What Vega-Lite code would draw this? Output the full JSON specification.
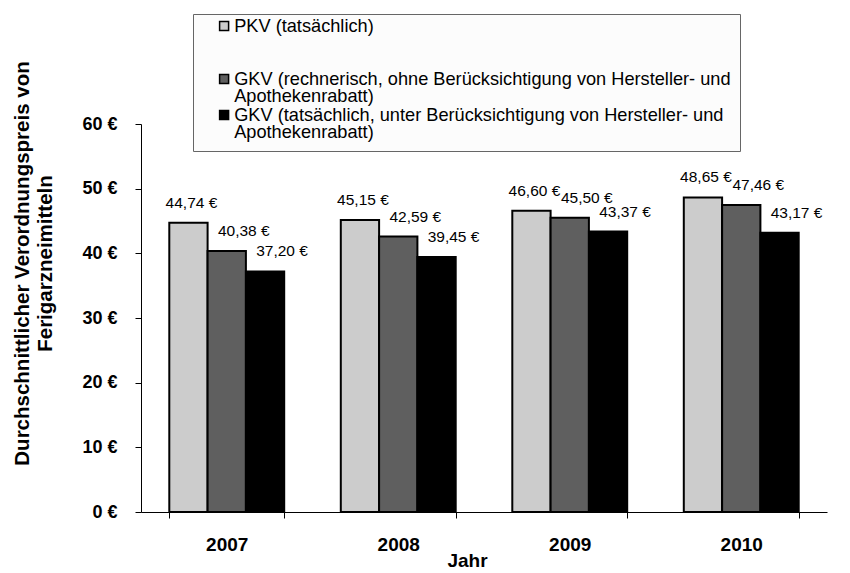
{
  "$schema": "https://vega.github.io/schema/vega-lite/v6.json",
  "width": 686,
  "height": 388,
  "autosize": {"type": "none"},
  "padding": {"left": 141, "top": 124, "right": 23, "bottom": 61},
  "background": "white",
  "config": {
    "locale": {"number": {"decimal": ",", "thousands": ".", "grouping": [3], "currency": ["", " €"]}},
    "view": {"stroke": null},
    "font": "Liberation Sans"
  },
  "data": {
    "values": [
      {"Jahr": "2007", "Reihe": "PKV (tatsächlich)", "Preis": 44.74},
      {"Jahr": "2007", "Reihe": "GKV (rechnerisch, ohne Berücksichtigung von Hersteller- und Apothekenrabatt)", "Preis": 40.38},
      {"Jahr": "2007", "Reihe": "GKV (tatsächlich, unter Berücksichtigung von Hersteller- und Apothekenrabatt)", "Preis": 37.20},
      {"Jahr": "2008", "Reihe": "PKV (tatsächlich)", "Preis": 45.15},
      {"Jahr": "2008", "Reihe": "GKV (rechnerisch, ohne Berücksichtigung von Hersteller- und Apothekenrabatt)", "Preis": 42.59},
      {"Jahr": "2008", "Reihe": "GKV (tatsächlich, unter Berücksichtigung von Hersteller- und Apothekenrabatt)", "Preis": 39.45},
      {"Jahr": "2009", "Reihe": "PKV (tatsächlich)", "Preis": 46.60},
      {"Jahr": "2009", "Reihe": "GKV (rechnerisch, ohne Berücksichtigung von Hersteller- und Apothekenrabatt)", "Preis": 45.50},
      {"Jahr": "2009", "Reihe": "GKV (tatsächlich, unter Berücksichtigung von Hersteller- und Apothekenrabatt)", "Preis": 43.37},
      {"Jahr": "2010", "Reihe": "PKV (tatsächlich)", "Preis": 48.65},
      {"Jahr": "2010", "Reihe": "GKV (rechnerisch, ohne Berücksichtigung von Hersteller- und Apothekenrabatt)", "Preis": 47.46},
      {"Jahr": "2010", "Reihe": "GKV (tatsächlich, unter Berücksichtigung von Hersteller- und Apothekenrabatt)", "Preis": 43.17}
    ]
  },
  "encoding": {
    "x": {
      "field": "Jahr",
      "type": "nominal",
      "scale": {"paddingInner": 0.33, "paddingOuter": 0.165},
      "axis": {
        "title": "Jahr",
        "tickBand": "extent",
        "labelAngle": 0,
        "labelFontSize": 19,
        "labelFontWeight": "bold",
        "labelColor": "black",
        "labelPadding": 17,
        "tickSize": 6,
        "tickColor": "black",
        "domainColor": "black",
        "titleFontSize": 19,
        "titleFontWeight": "bold",
        "titleColor": "black",
        "titleX": 326,
        "titleY": 48,
        "titleAlign": "center",
        "titleBaseline": "middle"
      }
    },
    "xOffset": {
      "field": "Reihe",
      "type": "nominal",
      "sort": [
        "PKV (tatsächlich)",
        "GKV (rechnerisch, ohne Berücksichtigung von Hersteller- und Apothekenrabatt)",
        "GKV (tatsächlich, unter Berücksichtigung von Hersteller- und Apothekenrabatt)"
      ],
      "scale": {"paddingInner": 0, "paddingOuter": 0}
    },
    "y": {
      "field": "Preis",
      "type": "quantitative",
      "scale": {"domain": [0, 60]},
      "axis": {
        "title": ["Durchschnittlicher Verordnungspreis von", "Ferigarzneimitteln"],
        "values": [0, 10, 20, 30, 40, 50, 60],
        "format": "$.0f",
        "grid": false,
        "labelFontSize": 18,
        "labelFontWeight": "bold",
        "labelColor": "black",
        "labelPadding": 18,
        "tickSize": 6,
        "tickColor": "black",
        "domainColor": "black",
        "titleFontSize": 20.5,
        "titleFontWeight": "bold",
        "titleColor": "black",
        "titleLineHeight": 23,
        "titleAngle": 270,
        "titleX": -129,
        "titleY": 139,
        "titleAlign": "center",
        "titleBaseline": "top"
      }
    }
  },
  "layer": [
    {
      "mark": {"type": "bar", "stroke": "black", "strokeWidth": 2},
      "encoding": {
        "color": {
          "field": "Reihe",
          "type": "nominal",
          "sort": [
            "PKV (tatsächlich)",
            "GKV (rechnerisch, ohne Berücksichtigung von Hersteller- und Apothekenrabatt)",
            "GKV (tatsächlich, unter Berücksichtigung von Hersteller- und Apothekenrabatt)"
          ],
          "scale": {
            "domain": [
              "PKV (tatsächlich)",
              "GKV (rechnerisch, ohne Berücksichtigung von Hersteller- und Apothekenrabatt)",
              "GKV (tatsächlich, unter Berücksichtigung von Hersteller- und Apothekenrabatt)"
            ],
            "range": ["#cccccc", "#5f5f5f", "#000000"]
          },
          "legend": {
            "orient": "none",
            "legendX": 52,
            "legendY": -110,
            "title": null,
            "fillColor": "#fcfcfc",
            "strokeColor": "#666666",
            "padding": 9,
            "symbolOffset": 13,
            "symbolType": "square",
            "symbolSize": 81,
            "symbolStrokeColor": "black",
            "symbolStrokeWidth": 1.5,
            "labelFontSize": 18.2,
            "labelColor": "black",
            "labelLimit": 800,
            "labelBaseline": "alphabetic",
            "labelOffset": 1,
            "rowPadding": 0,
            "encoding": {"labels": {"lineHeight": {"value": 17.3}}, "symbols": {"y": {"value": 3}}},
            "labelExpr": "datum.label == 'PKV (tatsächlich)' ? ['PKV (tatsächlich)', '', ''] : (indexof(datum.label, 'rechnerisch') >= 0 ? ['GKV (rechnerisch, ohne Berücksichtigung von Hersteller- und\u00a0\u00a0\u00a0\u00a0', 'Apothekenrabatt)'] : ['GKV (tatsächlich, unter Berücksichtigung von Hersteller- und', 'Apothekenrabatt)'])"
          }
        }
      }
    },
    {
      "transform": [{"filter": "datum.Reihe == 'PKV (tatsächlich)'"}],
      "mark": {"type": "text", "dx": 3, "dy": -20, "baseline": "middle", "fontSize": 15.5, "color": "black"},
      "encoding": {"text": {"field": "Preis", "type": "quantitative", "format": "$.2f"}}
    },
    {
      "transform": [{"filter": "datum.Reihe != 'PKV (tatsächlich)'"}],
      "mark": {"type": "text", "dx": 17, "dy": -20, "baseline": "middle", "fontSize": 15.5, "color": "black"},
      "encoding": {"text": {"field": "Preis", "type": "quantitative", "format": "$.2f"}}
    }
  ]
}
